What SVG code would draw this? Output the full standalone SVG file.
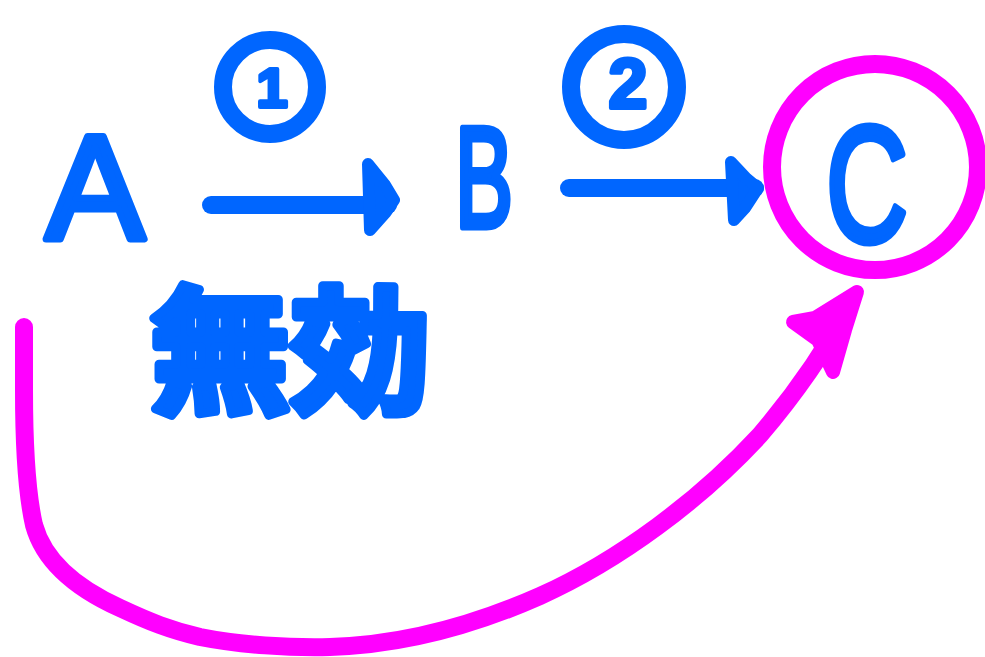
<svg xmlns="http://www.w3.org/2000/svg" width="985" height="657" viewBox="0 0 985 657">
<style>
.blue{fill:#0066FF;stroke:#0066FF;stroke-linejoin:round;stroke-linecap:round}
.letter{font-family:"Liberation Sans",Arial,sans-serif;stroke-width:7}
.num{font-family:"Liberation Sans",Arial,sans-serif;font-weight:bold;stroke-width:4}
.ring{fill:none;stroke:#0066FF;stroke-width:18}
.shaft{fill:none;stroke:#0066FF;stroke-width:18;stroke-linecap:round;stroke-linejoin:round}
.head{fill:#0066FF;stroke:#0066FF;stroke-width:12;stroke-linejoin:round;stroke-linecap:round}
.mag{fill:none;stroke:#FF00FF;stroke-width:18;stroke-linecap:round;stroke-linejoin:round}
.maghead{fill:#FF00FF;stroke:#FF00FF;stroke-width:14;stroke-linejoin:round;stroke-linecap:round}
.cjk{font-family:"Noto Sans CJK JP","Noto Sans CJK SC",sans-serif;font-weight:bold;stroke-width:9}
</style>
<rect width="985" height="657" fill="#FFFFFF"/>
<g id="nodeA">
<text class="blue letter" x="95" y="239" font-size="148" text-anchor="middle">A</text>
</g>
<g id="nodeB">
<text class="blue letter" x="455" y="227" font-size="142" textLength="58" lengthAdjust="spacingAndGlyphs">B</text>
</g>
<g id="nodeC">
<circle cx="875" cy="167" r="103" fill="none" stroke="#FF00FF" stroke-width="18"/>
<text class="blue letter" x="826" y="241" font-size="165" textLength="82" lengthAdjust="spacingAndGlyphs">C</text>
</g>
<g id="label1">
<circle class="ring" cx="270" cy="87" r="47"/>
<text class="blue num" x="272" y="107" font-size="56" text-anchor="middle">1</text>
</g>
<g id="label2">
<circle class="ring" cx="624" cy="87" r="53"/>
<text class="blue num" x="628" y="108" font-size="70" text-anchor="middle">2</text>
</g>
<g id="labelInvalid">
<text class="blue cjk" x="150" y="402" font-size="138" textLength="280" lengthAdjust="spacingAndGlyphs">無効</text>
</g>
<g id="connectors">
<path class="shaft" d="M211,205 L388,205"/>
<path class="head" d="M368,164 L385,185 L394,200 L386,212 L370,230 Z"/>
<path class="shaft" d="M569,188 L755,188"/>
<path class="head" d="M731,162 L746,178 L758,188 L745,208 L734,220 Z"/>
<path class="mag" d="M24,327 L24,390 C24,440 26,490 34,525 C45,565 80,590 120,608 C150,622 170,630 200,637 C240,645 290,648 330,647 C400,645 470,627 540,596 C620,560 700,500 760,435 C790,400 820,360 850,305"/>
<path class="maghead" d="M793,322 L815,318 L857,292 L845,330 L833,372 L818,340 Z"/>
</g>
</svg>
